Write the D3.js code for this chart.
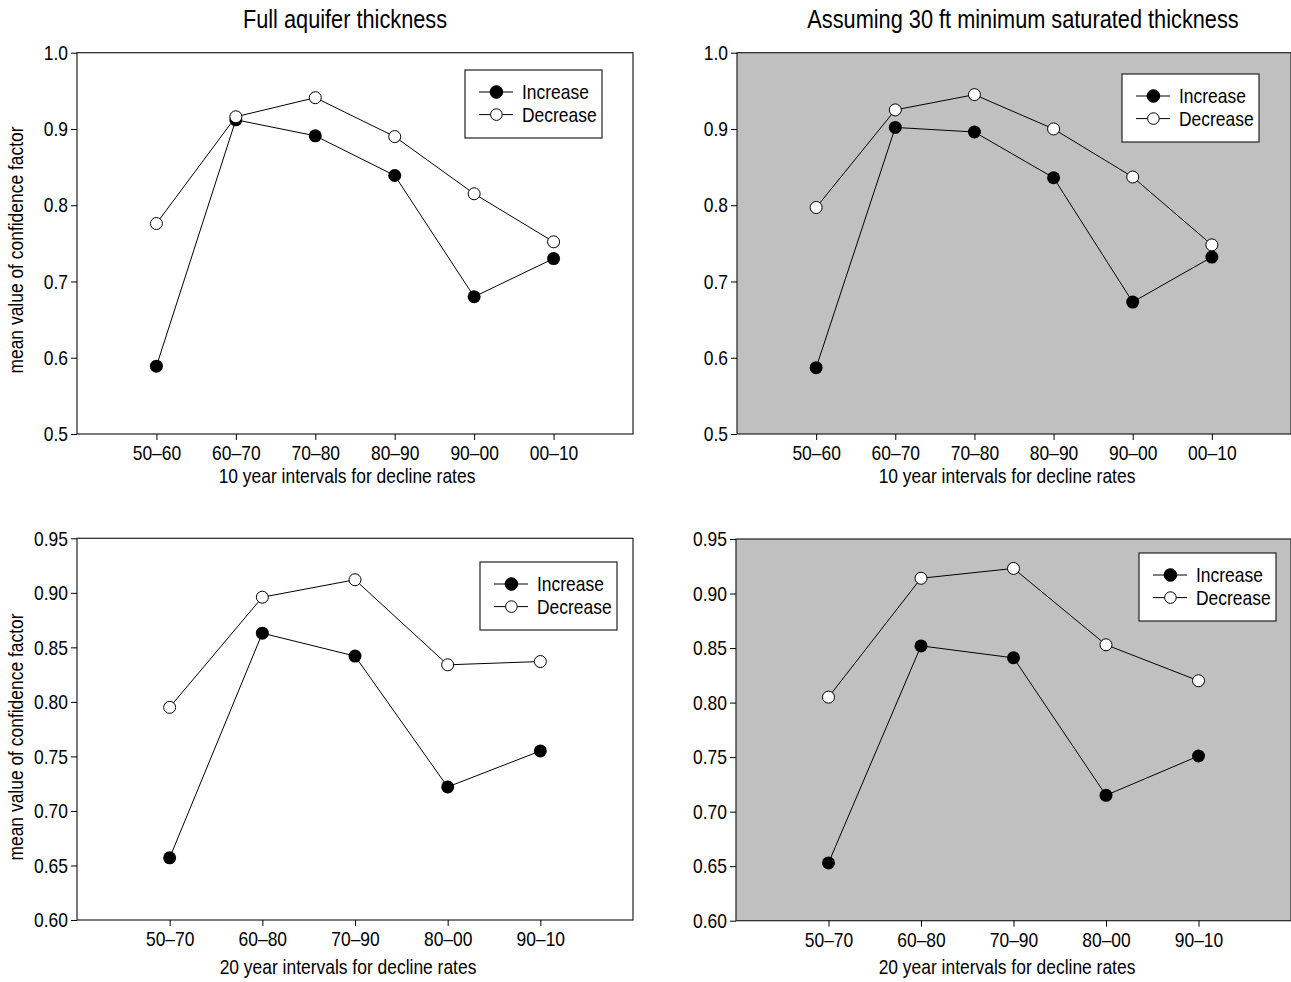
<!DOCTYPE html>
<html>
<head>
<title>confidence factor</title>
<script type="text/javascript" src="https://cdn.jsdelivr.net/npm/d3@7/dist/d3.min.js"></script>
<style>
body { margin: 0; background: #fff; }
svg text { font-family: 'Liberation Sans', Arial, sans-serif; fill: #000; }
</style>
</head>
<body>
<svg width="1291" height="982"></svg>
<script type="text/javascript">

// data
var cats10 = ["50–60", "60–70", "70–80", "80–90", "90–00", "00–10"];
var cats20 = ["50–70", "60–80", "70–90", "80–00", "90–10"];

var inc10Full = [0.589, 0.912, 0.891, 0.839, 0.680, 0.730];
var dec10Full = [0.776, 0.916, 0.941, 0.890, 0.815, 0.752];
var inc10Sat  = [0.587, 0.902, 0.896, 0.836, 0.673, 0.732];
var dec10Sat  = [0.797, 0.925, 0.945, 0.900, 0.837, 0.748];

var inc20Full = [0.657, 0.863, 0.842, 0.722, 0.755];
var dec20Full = [0.795, 0.896, 0.912, 0.834, 0.837];
var inc20Sat  = [0.653, 0.852, 0.841, 0.715, 0.751];
var dec20Sat  = [0.805, 0.914, 0.923, 0.853, 0.820];

var yTicks10 = [0.5, 0.6, 0.7, 0.8, 0.9, 1.0];
var yTicks20 = [0.60, 0.65, 0.70, 0.75, 0.80, 0.85, 0.90, 0.95];

var seriesNames = ["Increase", "Decrease"];

var titles = ["Full aquifer thickness", "Assuming 30 ft minimum saturated thickness"];
var xTitles = ["10 year intervals for decline rates", "20 year intervals for decline rates"];
var yTitle = "mean value of confidence factor";

var svg = d3.select("svg");
var FS = 21;

// the original type is a narrow grotesque, so squeeze the glyphs
function squeeze(sel, k) {
  k = k || 0.83;
  sel.each(function() {
    var w = this.getComputedTextLength();
    d3.select(this).attr("textLength", w * k).attr("lengthAdjust", "spacingAndGlyphs");
  });
}

var panels = [
  { l: 77, r: 633, t: 52.7, b: 434, bg: "#fff", cats: cats10, inc: inc10Full, dec: dec10Full,
    yt: yTicks10, fmt: ".1f", title: titles[0], tx: 345, xt: xTitles[0], xx: 347, xy: 483,
    ylab: true, yly: 250, lx: 465, ly: 70 },
  { l: 737, r: 1291, t: 52.7, b: 434, bg: "#c0c0c0", cats: cats10, inc: inc10Sat, dec: dec10Sat,
    yt: yTicks10, fmt: ".1f", title: titles[1], tx: 1023, xt: xTitles[0], xx: 1007, xy: 483,
    ylab: false, lx: 1122, ly: 74 },
  { l: 77, r: 633, t: 538.3, b: 920, bg: "#fff", cats: cats20, inc: inc20Full, dec: dec20Full,
    yt: yTicks20, fmt: ".2f", title: null, xt: xTitles[1], xx: 348, xy: 974,
    ylab: true, yly: 737, lx: 480, ly: 562 },
  { l: 736, r: 1291, t: 539, b: 920.7, bg: "#c0c0c0", cats: cats20, inc: inc20Sat, dec: dec20Sat,
    yt: yTicks20, fmt: ".2f", title: null, xt: xTitles[1], xx: 1007, xy: 974,
    ylab: false, lx: 1139, ly: 553 }
];

panels.forEach(function(p) {

  var x = d3.scalePoint().domain(p.cats).range([p.l, p.r]).padding(1);
  var y = d3.scaleLinear().domain(d3.extent(p.yt)).range([p.b, p.t]);

  var g = svg.append("g");

  g.append("rect")
    .attr("x", p.l).attr("y", p.t)
    .attr("width", p.r - p.l).attr("height", p.b - p.t)
    .attr("fill", p.bg)
    .attr("stroke", "#222")
    .attr("stroke-width", 1.2);

  var yAxis = g.append("g")
    .attr("transform", "translate(" + p.l + ",0)")
    .call(d3.axisLeft(y).tickValues(p.yt).tickFormat(d3.format(p.fmt)).tickSize(6).tickSizeOuter(0).tickPadding(3));
  yAxis.select(".domain").remove();
  yAxis.attr("font-family", null).attr("font-size", null);
  yAxis.selectAll("text").attr("font-size", FS).call(squeeze);
  yAxis.selectAll("line").attr("stroke", "#000");

  var xAxis = g.append("g")
    .attr("transform", "translate(0," + p.b + ")")
    .call(d3.axisBottom(x).tickSize(6).tickSizeOuter(0).tickPadding(5));
  xAxis.select(".domain").remove();
  xAxis.attr("font-family", null).attr("font-size", null);
  xAxis.selectAll("text").attr("font-size", FS).call(squeeze);
  xAxis.selectAll("line").attr("stroke", "#000");

  var rows = p.cats.map(function(c, i) { return { c: c, inc: p.inc[i], dec: p.dec[i] }; });

  ["inc", "dec"].forEach(function(k) {
    var line = d3.line()
      .x(function(d) { return x(d.c); })
      .y(function(d) { return y(d[k]); });
    g.append("path")
      .datum(rows)
      .attr("d", line)
      .attr("fill", "none")
      .attr("stroke", "#000")
      .attr("stroke-width", 1);
  });

  g.selectAll("circle.inc")
    .data(rows)
    .enter()
    .append("circle")
    .attr("class", "inc")
    .attr("cx", function(d) { return x(d.c); })
    .attr("cy", function(d) { return y(d.inc); })
    .attr("r", 6.5)
    .attr("fill", "#000");

  g.selectAll("circle.dec")
    .data(rows)
    .enter()
    .append("circle")
    .attr("class", "dec")
    .attr("cx", function(d) { return x(d.c); })
    .attr("cy", function(d) { return y(d.dec); })
    .attr("r", 6)
    .attr("fill", "#fff")
    .attr("stroke", "#000")
    .attr("stroke-width", 1);

  // legend
  var lg = g.append("g").attr("transform", "translate(" + p.lx + "," + p.ly + ")");
  lg.append("rect")
    .attr("width", 137).attr("height", 68)
    .attr("fill", "#fff")
    .attr("stroke", "#222")
    .attr("stroke-width", 1.2);
  seriesNames.forEach(function(s, i) {
    var yy = 22 + i * 22.6;
    lg.append("line")
      .attr("x1", 14).attr("x2", 48)
      .attr("y1", yy).attr("y2", yy)
      .attr("stroke", "#000").attr("stroke-width", 1);
    lg.append("circle")
      .attr("cx", 31.4).attr("cy", yy)
      .attr("r", i == 0 ? 6.3 : 5.8)
      .attr("fill", i == 0 ? "#000" : "#fff")
      .attr("stroke", "#000").attr("stroke-width", 1);
    lg.append("text")
      .attr("x", 57).attr("y", yy)
      .attr("dy", "0.35em")
      .attr("font-size", FS)
      .text(s)
      .call(squeeze);
  });

  if (p.title) {
    // titles squeezed with a transform instead of textLength
    g.append("text")
      .attr("transform", "translate(" + p.tx + ",28) scale(0.87,1)")
      .attr("text-anchor", "middle")
      .attr("font-size", 25)
      .text(p.title);
  }

  g.append("text")
    .attr("x", p.xx).attr("y", p.xy)
    .attr("text-anchor", "middle")
    .attr("font-size", FS)
    .text(p.xt)
    .call(squeeze);

  if (p.ylab) {
    g.append("text")
      .attr("transform", "translate(23," + p.yly + ") rotate(-90)")
      .attr("text-anchor", "middle")
      .attr("font-size", FS)
      .text(yTitle)
      .call(squeeze);
  }
});

</script>
</body>
</html>
